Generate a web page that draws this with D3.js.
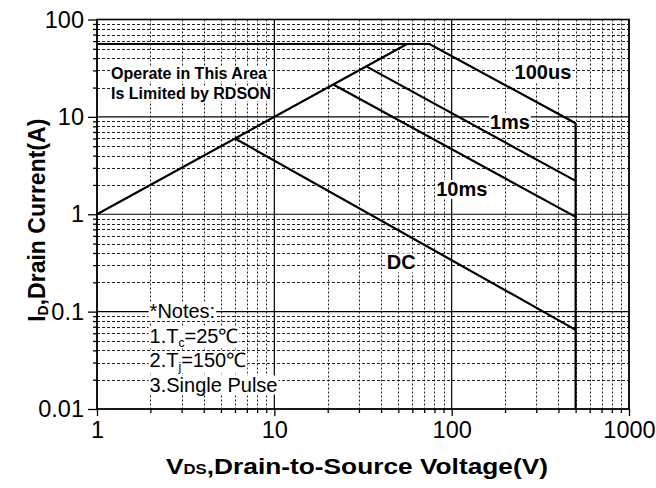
<!DOCTYPE html>
<html>
<head>
<meta charset="utf-8">
<script src="https://cdn.jsdelivr.net/npm/d3@7"></script>
<style>
  body { margin: 0; background: #fff; }
  svg { font-family: "Liberation Sans", Arial, sans-serif; }
</style>
</head>
<body>
<svg width="656" height="488"></svg>
<script>
// SOA chart data: [Vds, Id] points
const rdsonLine = [[1, 1], [56, 56]];
const pulse100us = [[1, 56], [75, 56], [500, 8.6]];
const pulse1ms = [[33, 33], [500, 2.2]];
const pulse10ms = [[21.5, 21.5], [500, 0.94]];
const dcLine = [[6, 6], [500, 0.065]];
const voltLimit = [[500, 8.6], [500, 0.01]];

const curveLabels = ["100us", "1ms", "10ms", "DC"];
const curveLabelPos = [[327, 29], [213, 8.9], [114, 1.82], [52, 0.32]];

const xTicks = [1, 10, 100, 1000];
const yTicks = [0.01, 0.1, 1, 10, 100];
const yTickLabels = ["0.01", "0.1", "1", "10", "100"];

const noteLines = ["*Notes:", "1.T|c|=25℃", "2.T|j|=150℃", "3.Single Pulse"];
const areaLines = ["Operate in This Area", "Is Limited by RDSON"];

const plotL = 97, plotR = 629, plotT = 19.5, plotB = 409;

const svg = d3.select("svg");

const x = d3.scaleLog().domain([1, 1000]).range([plotL, plotR]);
const y = d3.scaleLog().domain([0.01, 100]).range([plotB, plotT]);

// minor values inside each decade
function minors(lo, hi) {
  const out = [];
  for (let d = lo; d < hi * 0.999; d *= 10) {
    for (let k = 2; k <= 9; k++) out.push(d * k);
  }
  return out;
}
const xMinor = minors(1, 1000);
const yMinor = minors(0.01, 100);

const grid = svg.append("g");

// minor grid
grid.selectAll(".hm").data(yMinor).join("line")
  .attr("x1", plotL).attr("x2", plotR)
  .attr("y1", d => Math.round(y(d)) + 0.5).attr("y2", d => Math.round(y(d)) + 0.5)
  .attr("stroke", "#222").attr("stroke-width", 1)
  .attr("stroke-dasharray", "3,2");

grid.selectAll(".vm").data(xMinor).join("line")
  .attr("x1", d => Math.round(x(d)) + 0.5).attr("x2", d => Math.round(x(d)) + 0.5)
  .attr("y1", plotT).attr("y2", plotB)
  .attr("stroke", "#222").attr("stroke-width", 1)
  .attr("stroke-dasharray", "2,2");

// major grid
grid.selectAll(".hM").data(yTicks).join("line")
  .attr("x1", plotL).attr("x2", plotR)
  .attr("y1", d => y(d)).attr("y2", d => y(d))
  .attr("stroke", "#000").attr("stroke-width", 1.2);

grid.selectAll(".vM").data(xTicks).join("line")
  .attr("x1", d => x(d)).attr("x2", d => x(d))
  .attr("y1", plotT).attr("y2", plotB)
  .attr("stroke", "#000").attr("stroke-width", 1.2);

// axes
const yAxis = d3.axisLeft(y).tickValues(yTicks).tickFormat((d, i) => yTickLabels[i])
  .tickSize(9).tickPadding(4);
const yAxisMinor = d3.axisLeft(y).tickValues(yMinor).tickFormat("").tickSize(4);
const xAxis = d3.axisBottom(x).tickValues(xTicks).tickFormat(d3.format("d"))
  .tickSize(7).tickPadding(5);
const xAxisMinor = d3.axisBottom(x).tickValues(xMinor).tickFormat("").tickSize(4);

function styleAxis(g) {
  g.select(".domain").remove();
  g.selectAll("line").attr("stroke", "#000").attr("stroke-width", 1.3);
  g.selectAll("text").attr("fill", "#000")
    .attr("font-size", 23.5).attr("font-family", "Liberation Sans, Arial, sans-serif");
}

svg.append("g").attr("transform", `translate(${plotL},0)`).call(yAxisMinor).call(styleAxis);
svg.append("g").attr("transform", `translate(${plotL},0)`).call(yAxis).call(styleAxis);
svg.append("g").attr("transform", `translate(0,${plotB})`).call(xAxisMinor).call(styleAxis);
svg.append("g").attr("transform", `translate(0,${plotB})`).call(xAxis).call(styleAxis);

// frame
svg.append("rect")
  .attr("x", plotL).attr("y", plotT)
  .attr("width", plotR - plotL).attr("height", plotB - plotT)
  .attr("fill", "none").attr("stroke", "#000").attr("stroke-width", 1.6);

// curves
const line = d3.line().x(d => x(d[0])).y(d => y(d[1]));
const curves = [rdsonLine, pulse100us, pulse1ms, pulse10ms, dcLine, voltLimit];
svg.append("g").selectAll("path").data(curves).join("path")
  .attr("d", line)
  .attr("fill", "none").attr("stroke", "#000").attr("stroke-width", 2.2)
  .attr("stroke-linejoin", "miter");

// text with white knock-out background
function knockText(g, tx, ty, parts, size, weight, anchor) {
  const t = g.append("text")
    .attr("x", tx).attr("y", ty)
    .attr("font-size", size).attr("font-weight", weight)
    .attr("text-anchor", anchor || "start").attr("fill", "#000");
  parts.split("|").forEach((p, i) => {
    if (!p) return;
    const s = t.append("tspan").text(p);
    if (i % 2 === 1) s.attr("font-size", size * 0.6).attr("dy", 4);
    else if (i > 0) s.attr("dy", -4);
  });
  const b = t.node().getBBox();
  g.insert("rect", "text")
    .attr("x", b.x - 1).attr("y", b.y + 2)
    .attr("width", b.width + 2).attr("height", b.height - 3)
    .attr("fill", "#fff");
}

const labels = svg.append("g");
curveLabels.forEach((name, i) => {
  const g = labels.append("g");
  knockText(g, x(curveLabelPos[i][0]), y(curveLabelPos[i][1]) + 7, name, 20, "bold", "middle");
});

areaLines.forEach((s, i) => {
  const g = labels.append("g");
  knockText(g, x(1.2), 79 + i * 20, s, 16, "bold");
});

noteLines.forEach((s, i) => {
  const g = labels.append("g");
  knockText(g, x(1.98), 318 + i * 24.5, s, 20, "normal");
});

// axis titles
const xt = svg.append("text")
  .attr("x", 166).attr("y", 474)
  .attr("textLength", 382).attr("lengthAdjust", "spacingAndGlyphs")
  .attr("font-size", 22).attr("font-weight", "bold");
xt.append("tspan").text("V");
xt.append("tspan").text("DS").attr("font-size", 14);
xt.append("tspan").text(",Drain-to-Source Voltage(V)");

const yt = svg.append("text")
  .attr("transform", `translate(45,${(plotT + plotB) / 2 + 6}) rotate(-90)`)
  .attr("text-anchor", "middle").attr("font-size", 23).attr("font-weight", "bold");
yt.append("tspan").text("I");
yt.append("tspan").text("D").attr("font-size", 14).attr("dy", 3);
yt.append("tspan").text(",Drain Current(A)").attr("dy", -3);
</script>
</body>
</html>
